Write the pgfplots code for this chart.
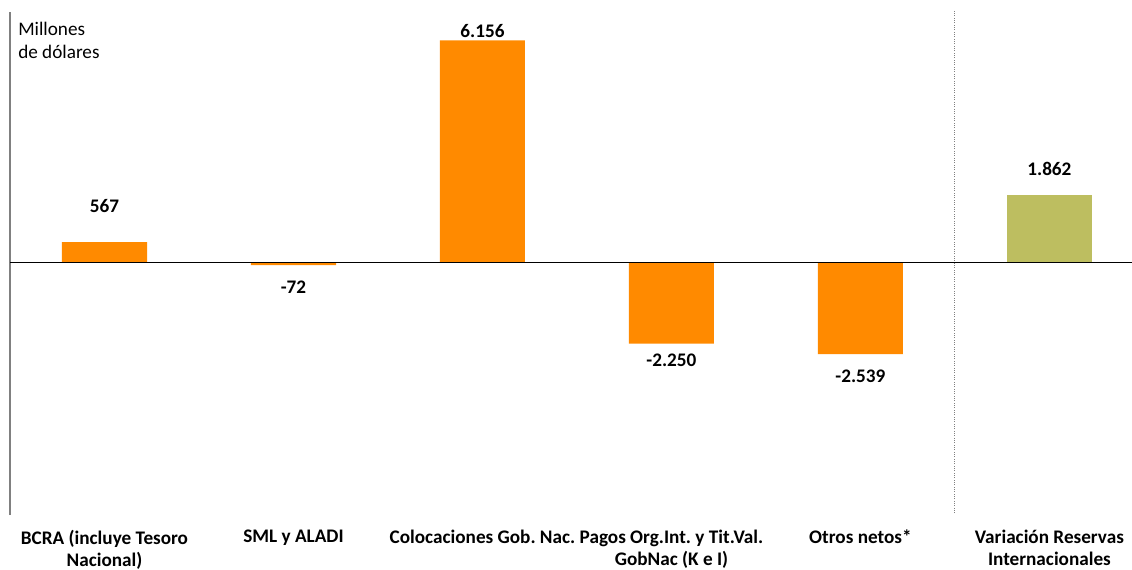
\documentclass[border=0pt]{standalone}
\usepackage{fontspec}
\setmainfont{Carlito}
\usepackage{pgfplots}
\usepackage{pgfplotstable}
\pgfplotsset{compat=1.18}
\definecolor{barorange}{HTML}{FF8A00}
\definecolor{bargreen}{HTML}{BDBE60}

% x, value, label text, vertical offset of the label (pt)
\pgfplotstableread{
x y lab dy
0 567 567 18.3
1 -72 -72 -24.5
2 6156 6.156 -1.7
3 -2250 -2.250 -20.7
4 -2539 -2.539 -25.2
}\flujos
\pgfplotstableread{
x y lab dy
5 1862 1.862 11.3
}\reservas

\begin{document}
\frenchspacing
\begin{tikzpicture}
\begin{axis}[
    scale only axis,
    width=841.5pt, height=378.75pt,
    xmin=-0.5, xmax=5.437,
    ymin=-7000, ymax=7000,
    ybar, bar width=0.45, bar shift=0pt,
    axis line style={draw=none},
    ytick=\empty,
    xtick={0,...,5},
    xticklabels={{BCRA (incluye Tesoro\\Nacional)},{SML y ALADI},{Colocaciones Gob. Nac.},{Pagos Org.Int. y Tit.Val.\\GobNac (K e I)},{Otros netos*},{Variación Reservas\\Internacionales}},
    xtick style={draw=none},
    xticklabel style={font=\bfseries\fontsize{14.4}{16.5}\selectfont, align=center, yshift=-3.5pt},
    point meta=explicit symbolic,
    nodes near coords={\pgfplotspointmeta},
    visualization depends on={\thisrow{dy}\as\dy},
    nodes near coords style={font=\bfseries\fontsize{14.4}{16}\selectfont, yshift=\dy pt},
    clip=false,
]
\addplot[draw=none, fill=barorange] table[x=x, y=y, meta=lab] {\flujos};
\addplot[draw=none, fill=bargreen] table[x=x, y=y, meta=lab] {\reservas};

\draw[gray, line width=1.5pt] (axis cs:-0.5,-7000) -- (axis cs:-0.5,6950);
\draw[black, line width=0.75pt] (axis cs:-0.5,0) -- (axis cs:5.437,0);
\draw[gray, densely dotted, line width=0.75pt] (axis cs:4.5,-6950) -- (axis cs:4.5,7000);

\node[anchor=north west, align=left, inner sep=0pt, font=\fontsize{14.4}{17.25}\selectfont,
      xshift=6pt, yshift=-9pt] at (rel axis cs:0,1) {Millones\\de dólares};
\end{axis}
\pgfresetboundingbox
\path (current axis.south west) ++(-7.5pt,-40.5pt) rectangle ([yshift=7.5pt]current axis.north east);
\end{tikzpicture}
\end{document}
